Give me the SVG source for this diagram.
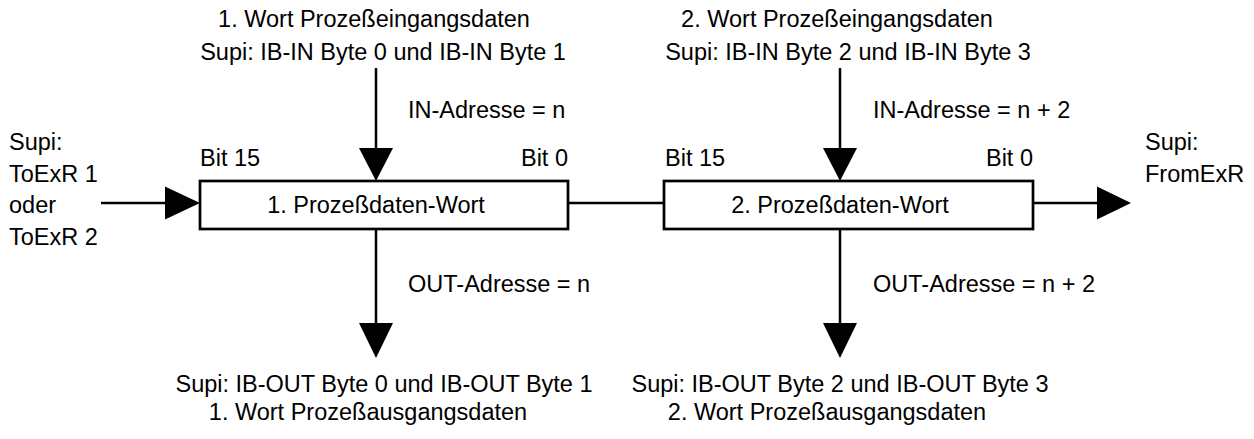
<svg xmlns="http://www.w3.org/2000/svg" width="1254" height="439" viewBox="0 0 1254 439">
<style>
text{font-family:"Liberation Sans",Arial,sans-serif;font-size:23.5px;fill:#000}
.m{text-anchor:middle}
.e{text-anchor:end}
.box{fill:#fff;stroke:#000;stroke-width:2.7}
.ln{stroke:#000;stroke-width:2.5;fill:none}
.ah{fill:#000;stroke:none}
</style>
<rect width="1254" height="439" fill="#fff"/>
<g id="connectors">
<line class="ln" x1="101" y1="203" x2="166" y2="203"/>
<polygon class="ah" points="165,186.5 200,203 165,219.5"/>
<line class="ln" x1="568" y1="203" x2="664" y2="203"/>
<line class="ln" x1="1033" y1="203" x2="1098" y2="203"/>
<polygon class="ah" points="1097,186.5 1131,203 1097,219.5"/>
<line class="ln" x1="376" y1="68" x2="376" y2="149"/>
<polygon class="ah" points="359,148 393,148 376,181"/>
<line class="ln" x1="840" y1="68" x2="840" y2="149"/>
<polygon class="ah" points="823,148 857,148 840,181"/>
<line class="ln" x1="376" y1="229" x2="376" y2="324"/>
<polygon class="ah" points="359,323 393,323 376,358"/>
<line class="ln" x1="840" y1="229" x2="840" y2="324"/>
<polygon class="ah" points="823,323 857,323 840,358"/>
</g>
<g id="node1">
<rect class="box" x="200" y="181" width="368" height="48"/>
<text class="m" x="376" y="213">1. Prozeßdaten-Wort</text>
<text x="200" y="166">Bit 15</text>
<text class="e" x="568" y="166">Bit 0</text>
</g>
<g id="node2">
<rect class="box" x="664" y="181" width="369" height="48"/>
<text class="m" x="840" y="213">2. Prozeßdaten-Wort</text>
<text x="665" y="166">Bit 15</text>
<text class="e" x="1033" y="166">Bit 0</text>
</g>
<g id="input">
<text x="9" y="150">Supi:</text>
<text x="9" y="181.7">ToExR 1</text>
<text x="9" y="213.3">oder</text>
<text x="9" y="245">ToExR 2</text>
</g>
<g id="output">
<text x="1145" y="150">Supi:</text>
<text x="1145" y="181.7">FromExR</text>
</g>
<g id="in1">
<text class="m" x="374" y="27">1. Wort Prozeßeingangsdaten</text>
<text class="m" x="383" y="60">Supi: IB-IN Byte 0 und IB-IN Byte 1</text>
<text x="408" y="118">IN-Adresse = n</text>
</g>
<g id="in2">
<text class="m" x="837" y="27">2. Wort Prozeßeingangsdaten</text>
<text class="m" x="848" y="60">Supi: IB-IN Byte 2 und IB-IN Byte 3</text>
<text x="873" y="118">IN-Adresse = n + 2</text>
</g>
<g id="out1">
<text x="408" y="292">OUT-Adresse = n</text>
<text class="m" x="384" y="392">Supi: IB-OUT Byte 0 und IB-OUT Byte 1</text>
<text class="m" x="368" y="420">1. Wort Prozeßausgangsdaten</text>
</g>
<g id="out2">
<text x="873" y="292">OUT-Adresse = n + 2</text>
<text class="m" x="840" y="392">Supi: IB-OUT Byte 2 und IB-OUT Byte 3</text>
<text class="m" x="827" y="420">2. Wort Prozeßausgangsdaten</text>
</g>
</svg>
